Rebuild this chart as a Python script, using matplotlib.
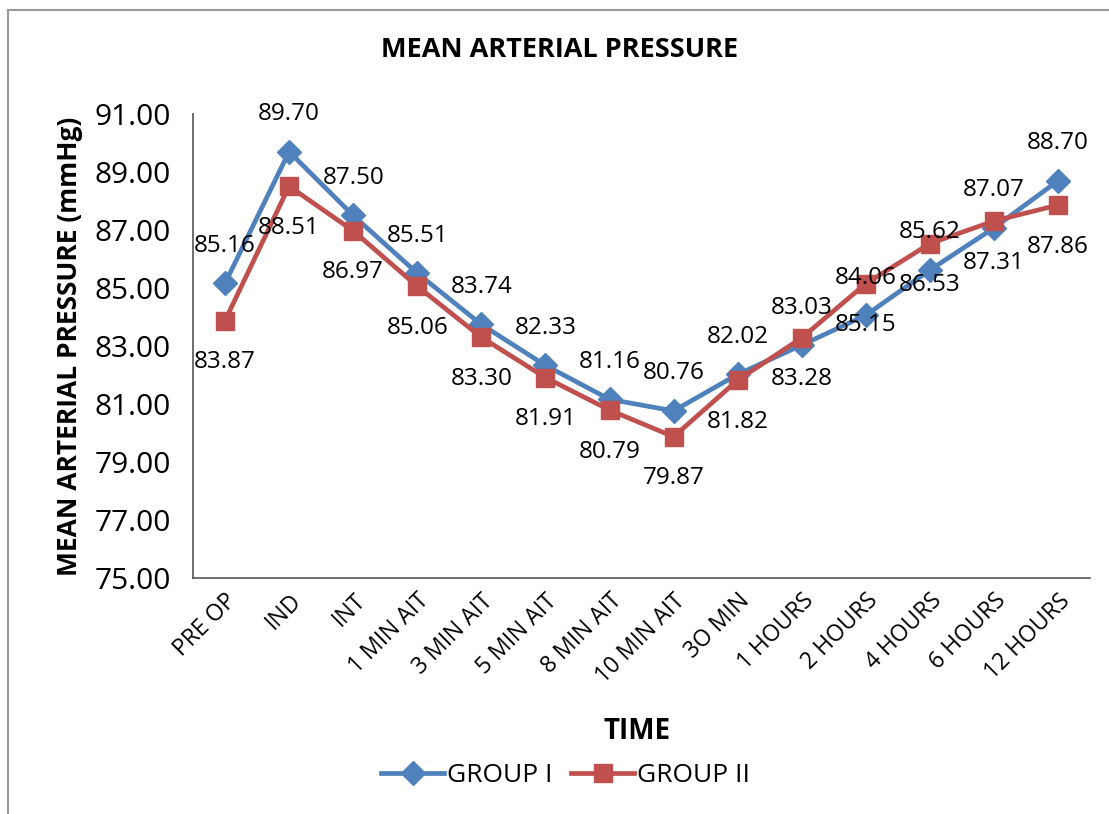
import matplotlib
matplotlib.use("Agg")
import matplotlib.pyplot as plt
from matplotlib.lines import Line2D

plt.rcParams['font.family'] = ['Open Sans', 'DejaVu Sans']

times = ["PRE OP", "IND", "INT", "1 MIN AIT", "3 MIN AIT", "5 MIN AIT",
         "8 MIN AIT", "10 MIN AIT", "3O MIN", "1 HOURS", "2 HOURS",
         "4 HOURS", "6 HOURS", "12 HOURS"]
group_1 = [85.16, 89.70, 87.50, 85.51, 83.74, 82.33, 81.16, 80.76, 82.02,
           83.03, 84.06, 85.62, 87.07, 88.70]
group_2 = [83.87, 88.51, 86.97, 85.06, 83.30, 81.91, 80.79, 79.87, 81.82,
           83.28, 85.15, 86.53, 87.31, 87.86]
y_ticks = [75, 77, 79, 81, 83, 85, 87, 89, 91]

blue = "#4F81BD"
red = "#C0504D"

fig = plt.figure(figsize=(11.09, 8.14), dpi=100)
ax = fig.add_axes([0.174, 0.29, 0.809, 0.57])

x = list(range(len(times)))
ax.plot(x, group_1, color=blue, lw=3.4, marker="D", ms=12, label="GROUP I")
ax.plot(x, group_2, color=red, lw=3.4, marker="s", ms=13.5, label="GROUP II")

# value labels: group I above its point, group II below
for i in x:
    ax.annotate(f"{group_1[i]:.2f}", (i, group_1[i]), xytext=(0, 27),
                textcoords="offset points", ha="center", va="center", fontsize=17.5)
    ax.annotate(f"{group_2[i]:.2f}", (i, group_2[i]), xytext=(0, -30),
                textcoords="offset points", ha="center", va="center", fontsize=17.5)

ax.set_xlim(-0.5, len(times) - 0.5)
ax.set_ylim(75, 91)
ax.set_yticks(y_ticks)
ax.set_yticklabels([f"{v:.2f}" for v in y_ticks], fontsize=21.5)
ax.set_xticks(x)
ax.set_xticklabels(times, rotation=45, ha="right", rotation_mode="anchor", fontsize=16.5)
ax.tick_params(axis="both", length=0, pad=8)
ax.tick_params(axis="y", pad=16)
for side in ["top", "right"]:
    ax.spines[side].set_visible(False)
for side in ["left", "bottom"]:
    ax.spines[side].set_color("#555555")
    ax.spines[side].set_linewidth(1.2)

ax.set_ylabel("MEAN ARTERIAL PRESSURE (mmHg)", fontsize=19, fontweight="bold", labelpad=8)
fig.text(0.505, 0.938, "MEAN ARTERIAL PRESSURE", ha="center", va="center",
         fontsize=19.5, fontweight="bold")
fig.text(0.574, 0.101, "TIME", ha="center", va="center", fontsize=20, fontweight="bold")

handles = [Line2D([], [], color=blue, lw=3.4, marker="D", ms=12),
           Line2D([], [], color=red, lw=3.4, marker="s", ms=13.5)]
fig.legend(handles, ["GROUP I", "GROUP II"], loc="center", bbox_to_anchor=(0.51, 0.047),
           ncol=2, frameon=False, fontsize=19, handlelength=2.4, columnspacing=0.7,
           handletextpad=0.1)

# chart area border (top and left edges)
fig.add_artist(Line2D([0.007, 1.0], [0.988, 0.988], transform=fig.transFigure,
                      color="#999999", lw=1.5))
fig.add_artist(Line2D([0.007, 0.007], [0.0, 0.988], transform=fig.transFigure,
                      color="#999999", lw=1.5))

fig.savefig("out.png", dpi=100)
